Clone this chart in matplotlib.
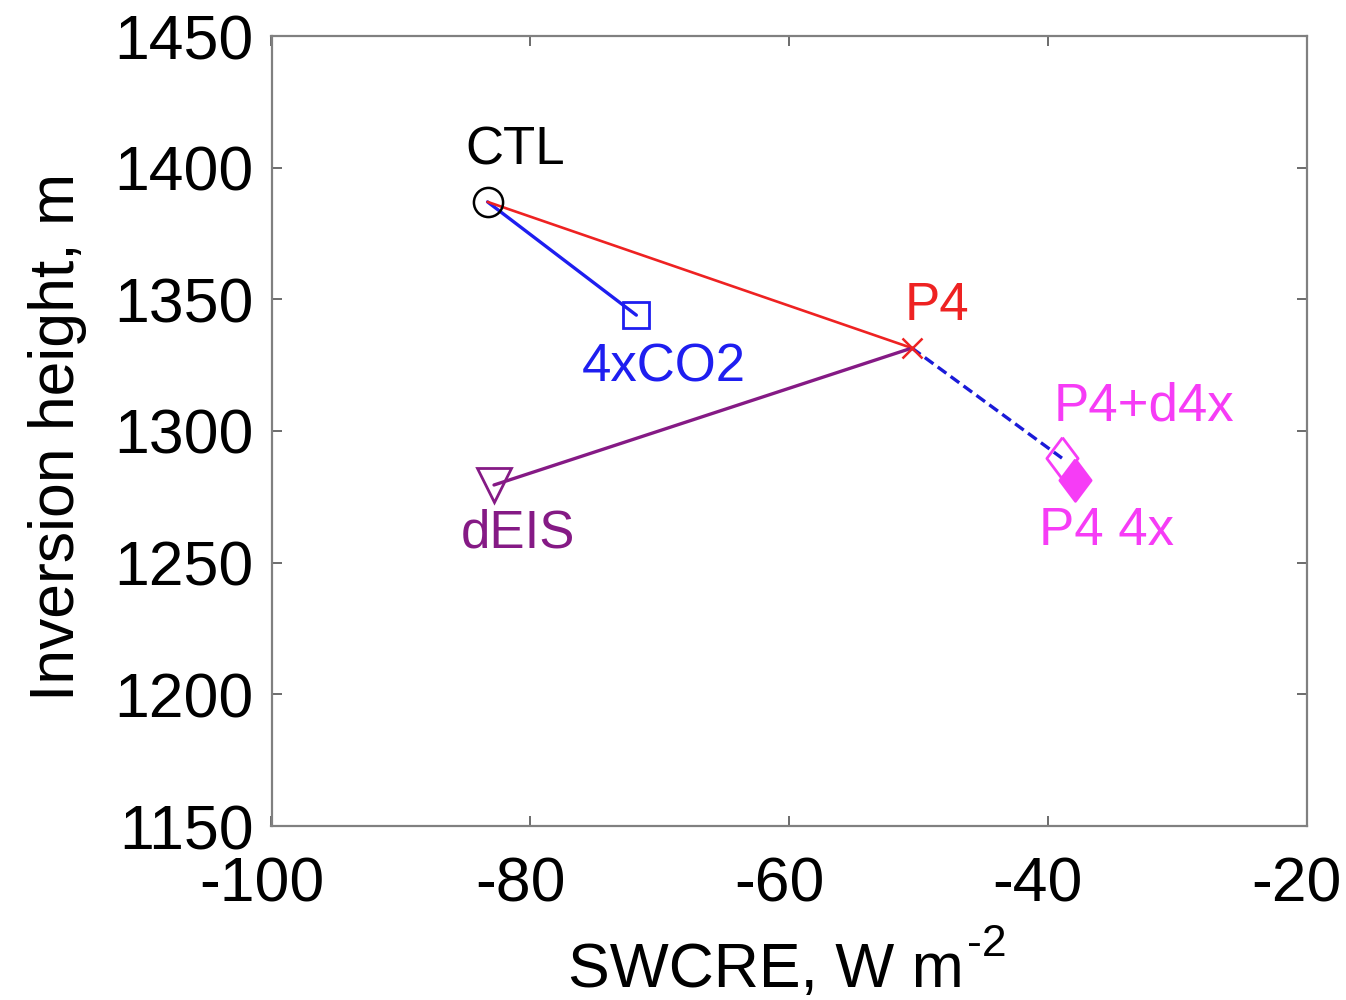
import matplotlib
matplotlib.use("Agg")
import matplotlib.pyplot as plt
from matplotlib.transforms import ScaledTranslation

plt.rcParams['font.family'] = ['Liberation Sans', 'DejaVu Sans']
plt.rcParams['axes.unicode_minus'] = False

# Experiment states: (SWCRE in W m-2, inversion height in m)
names = ["CTL", "4xCO2", "P4", "dEIS", "P4+d4x", "P4 4x"]
swcre = [-83.3, -71.8, -50.5, -82.8, -38.9, -37.9]
zinv = [1387.0, 1344.0, 1331.5, 1279.5, 1289.7, 1281.4]

xticks = [-100, -80, -60, -40, -20]
yticks = [1150, 1200, 1250, 1300, 1350, 1400, 1450]

pt = dict(zip(names, zip(swcre, zinv)))

W, H = 1346, 1000
fig = plt.figure(figsize=(W / 100, H / 100), dpi=100)
ax = fig.add_axes([271.5 / W, 1 - 826 / H, (1306.5 - 271.5) / W, (826 - 36) / H])

red = "#ee2222"
blue = "#1e1ef0"
purple = "#851a85"
magenta = "#f63cf6"

def seg(a, b, **kw):
    ax.plot([pt[a][0], pt[b][0]], [pt[a][1], pt[b][1]], solid_capstyle="round", **kw)

seg("CTL", "4xCO2", color=blue, lw=2.4)
seg("CTL", "P4", color=red, lw=1.9)
seg("dEIS", "P4", color=purple, lw=2.4)
seg("P4", "P4+d4x", color="#1a1ad8", lw=2.4, ls=(0, (3.2, 1.6)))

# taller-than-wide diamond
diamond = [(0, 1), (0.75, 0), (0, -1), (-0.75, 0), (0, 1)]

ax.plot(*pt["CTL"], marker="o", mfc="none", mec="black", ms=21, mew=1.8)
ax.plot(*pt["4xCO2"], marker="s", mfc="none", mec=blue, ms=19, mew=2.0)
ax.plot(*pt["P4"], marker="x", color=red, ms=14, mew=1.8)
ax.plot(*pt["dEIS"], marker="v", mfc="none", mec=purple, ms=24, mew=2.0)
ax.plot(*pt["P4+d4x"], marker=diamond, mfc="none", mec=magenta, ms=30, mew=2.0)
ax.plot(*pt["P4 4x"], marker=diamond, mfc=magenta, mec=magenta, ms=30, mew=2.0)

# labels placed relative to their markers (offsets in points)
label_style = {
    "CTL": ("black", (20, 27)),
    "4xCO2": (blue, (20, -48)),
    "P4": (red, (18, 20)),
    "P4+d4x": (magenta, (59, 27)),
    "P4 4x": (magenta, (23, -47)),
    "dEIS": (purple, (17, -45)),
}
for name, (col, off) in label_style.items():
    ax.annotate(name, pt[name], xytext=off, textcoords="offset points",
                ha="center", va="baseline", fontsize=38, color=col)

ax.set_xlim(xticks[0], xticks[-1])
ax.set_ylim(yticks[0], yticks[-1])
ax.set_xticks(xticks)
ax.set_yticks(yticks)
ax.set_xticklabels([str(v) for v in xticks])
ax.set_yticklabels([str(v) for v in yticks])
ax.tick_params(direction="in", top=True, right=True, length=7, width=1.1,
               labelsize=45, color="#444444")
ax.tick_params(axis="x", pad=21)
ax.tick_params(axis="y", pad=13)
for s in ax.spines.values():
    s.set_color("#808080")
    s.set_linewidth(1.6)

# nudge x tick labels slightly left
shift = ScaledTranslation(-0.10, 0, fig.dpi_scale_trans)
for lab in ax.get_xticklabels():
    lab.set_transform(lab.get_transform() + shift)

# axis titles
fig.text(74 / W, 1 - 437 / H, "Inversion height, m", rotation=90,
         rotation_mode="anchor", ha="center", va="baseline", fontsize=45)
fig.text(568 / W, 1 - 987 / H, "SWCRE, W m", ha="left", va="baseline", fontsize=45)
fig.text(967 / W, 1 - 956 / H, "-2", ha="left", va="baseline", fontsize=32)

fig.savefig("out.png", dpi=100)
